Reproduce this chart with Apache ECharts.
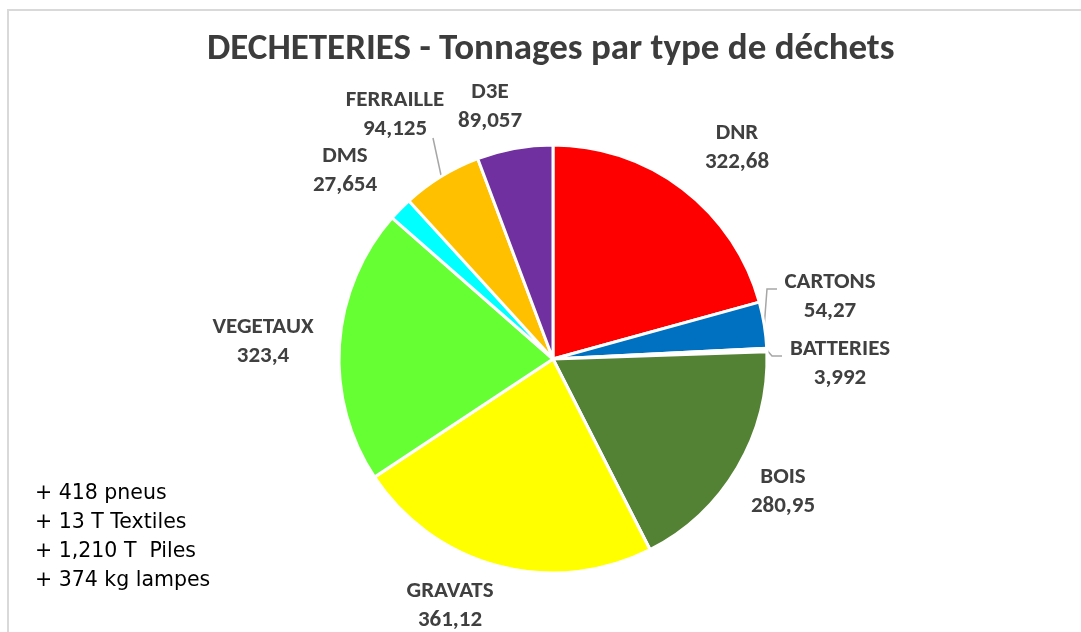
<!DOCTYPE html>
<html>
<head>
<meta charset="utf-8">
<script src="https://cdn.jsdelivr.net/npm/echarts@6/dist/echarts.min.js"></script>
<style>
  html, body { margin: 0; padding: 0; background: #fff; }
  #chart { width: 1081px; height: 632px; }
</style>
</head>
<body>
<div id="chart"></div>
<script>
// données
const categories = ['DNR', 'CARTONS', 'BATTERIES', 'BOIS', 'GRAVATS', 'VEGETAUX', 'DMS', 'FERRAILLE', 'D3E'];
const tonnages = [322.68, 54.27, 3.992, 280.95, 361.12, 323.4, 27.654, 94.125, 89.057];
const notes = ['+ 418 pneus', '+ 13 T Textiles', '+ 1,210 T  Piles', '+ 374 kg lampes'];

// couleurs
const colors = ['#FF0000', '#0070C0', '#F2F2F2', '#548235', '#FFFF00', '#66FF33', '#00FFFF', '#FFC000', '#7030A0'];
// position des étiquettes (centre du bloc)
const labelPos = [[737, 148], [830, 297], [840, 364], [783, 492], [450, 606], [263, 342], [345, 171], [395, 115], [490, 107]];
// traits de rappel : coude et extrémité
const guides = {
    CARTONS: [[767, 289], [777, 289]],
    BATTERIES: [[772, 356], [782, 356]],
    FERRAILLE: [[433, 138], [433, 138]]
};

const font = "Carlito, 'Liberation Sans', Arial, sans-serif";

const chart = echarts.init(document.getElementById('chart'));
chart.setOption({
    animation: false,
    title: {
        text: 'DECHETERIES - Tonnages par type de déchets',
        left: 202,
        top: 26,
        textStyle: { fontFamily: font, fontSize: 37, fontWeight: 'bold', color: '#3C3C3C' }
    },
    graphic: [
        {
            type: 'rect',
            shape: { x: 8, y: 10, width: 1300, height: 1000 },
            style: { fill: 'none', stroke: '#D9D9D9', lineWidth: 2 },
            silent: true
        },
        {
            type: 'text',
            left: 35,
            top: 479,
            style: {
                text: notes.join('\n'),
                fontFamily: "'DejaVu Sans', Verdana, sans-serif",
                fontSize: 20.5,
                lineHeight: 29,
                fill: '#000'
            }
        }
    ],
    series: [{
        type: 'pie',
        center: [553, 359],
        radius: 214,
        startAngle: 90,
        clockwise: true,
        data: categories.map((name, i) => ({
            name: name,
            value: tonnages[i],
            itemStyle: { color: colors[i] },
            labelLine: { show: !!guides[name] }
        })),
        itemStyle: { borderColor: '#fff', borderWidth: 3 },
        label: {
            show: true,
            position: 'outside',
            formatter: p => p.name + '\n' + String(p.value).replace('.', ','),
            fontFamily: font,
            fontSize: 23,
            fontWeight: 'bold',
            lineHeight: 29,
            color: '#404040',
            align: 'center'
        },
        labelLine: {
            lineStyle: { color: '#A6A6A6', width: 1.5 },
            length: 10,
            length2: 8
        },
        labelLayout: function (params) {
            const p = labelPos[params.dataIndex];
            const g = guides[categories[params.dataIndex]];
            const res = { x: p[0], y: p[1], align: 'center', verticalAlign: 'middle' };
            if (g && params.labelLinePoints) {
                res.labelLinePoints = [params.labelLinePoints[0], g[0], g[1]];
            }
            return res;
        },
        emphasis: { disabled: true }
    }]
});
</script>
</body>
</html>
